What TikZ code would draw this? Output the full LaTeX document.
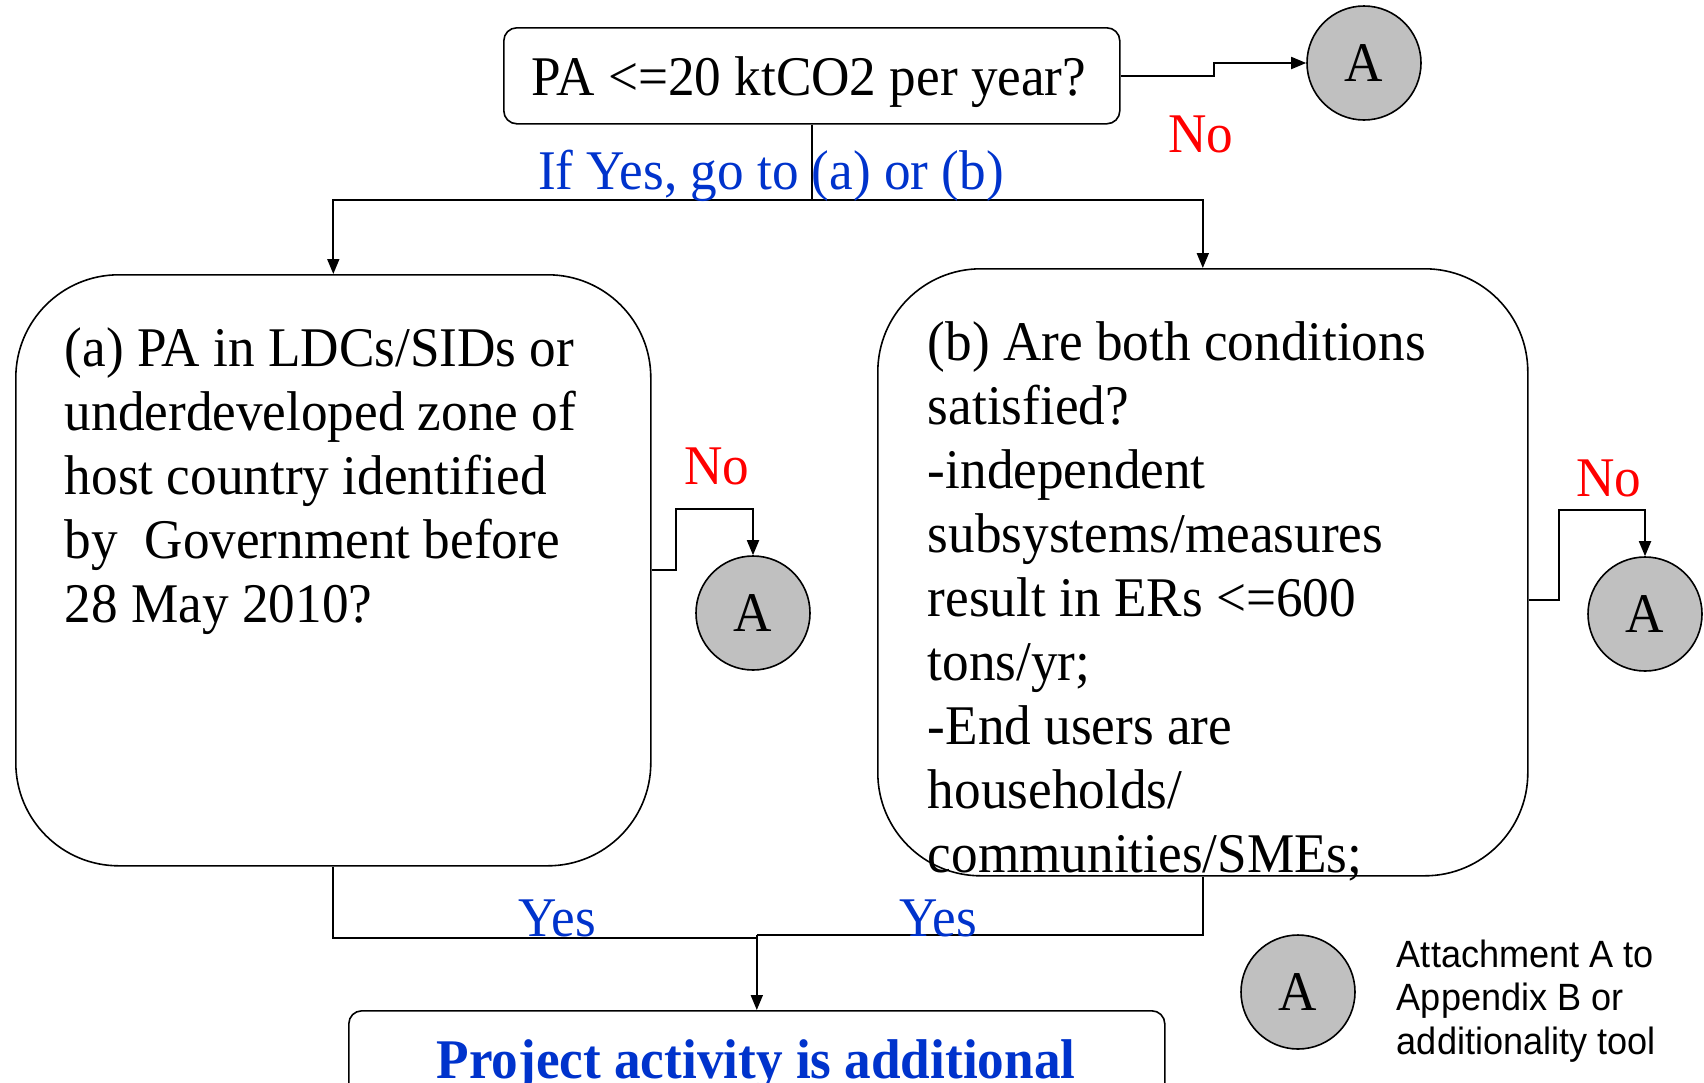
\documentclass[tikz,border=0pt]{standalone}
\usepackage{fontspec}
\setmainfont{Liberation Serif}[FakeStretch=0.95]
\newfontfamily\legendfont{Liberation Sans}[FakeStretch=0.95]
\usetikzlibrary{arrows.meta,calc}
\definecolor{decblue}{HTML}{0033CC}
\definecolor{nored}{HTML}{FF0000}
\definecolor{attgray}{HTML}{C0C0C0}
% natural interword spacing inside the multi-line text blocks
\newcommand{\plainspaces}{\spaceskip=0pt\xspaceskip=0pt\relax}

\begin{document}
\begin{tikzpicture}[x=1pt,y=-1pt,
  line width=1.8pt,
  flow/.style={-{Triangle[length=15pt,width=12pt]}},
  card/.style={draw, line width=1.6pt, inner sep=0pt, anchor=north west},
  attach/.style={circle, draw, fill=attgray, line width=1.6pt,
    minimum size=114pt, inner sep=0pt, font=\fontsize{56}{64}\selectfont},
  big/.style={font=\fontsize{56}{64}\selectfont, inner sep=0pt},
  blabel/.style={big, text=decblue},
  rlabel/.style={big, text=nored}]

\useasboundingbox (0,0) rectangle (1704,1082);
\clip (0,0) rectangle (1704,1082);

% decision boxes
\node[card, rounded corners=13pt, minimum width=616pt, minimum height=96pt] (top) at (503,27) {};
\node[card, rounded corners=103pt, minimum width=635pt, minimum height=591pt] (a) at (15,274) {};
\node[card, rounded corners=103pt, minimum width=650pt, minimum height=607pt] (b) at (877,268) {};
\node[card, rounded corners=13pt, minimum width=816pt, minimum height=110pt] (final) at (348,1010) {};

% attachment circles
\node[attach] (topA) at (1364,63) {\raisebox{-3pt}{A}};
\node[attach] (leftA) at (753,613) {\raisebox{-3pt}{A}};
\node[attach] (rightA) at (1645,614) {\raisebox{-3pt}{A}};
\node[attach] (legendA) at (1298,992) {\raisebox{-3pt}{A}};

% box texts
\node[big, anchor=base] (toptext) at (809,95) {PA <=20 ktCO2 per year?};
\node[big, anchor=base west, text width=640pt, align=left] (atext) at (64,366)
  {\plainspaces(a) PA in LDCs/SIDs or\\underdeveloped zone of\\host country identified\\by\ \ Government before\\28 May 2010?};
\node[big, anchor=base west, text width=600pt, align=left] (btext) at (927,360)
  {\plainspaces(b) Are both conditions\\satisfied?\\-independent\\subsystems/measures\\result in ERs <=600\\tons/yr;\\-End users are\\households/\\communities/SMEs;};
\node[big, anchor=base, text=decblue, font=\fontsize{56}{64}\selectfont\bfseries] (finaltext) at (756,1078)
  {Project activity is additional};
\node[anchor=base west, inner sep=0pt, text width=320pt, align=left,
  font=\legendfont\fontsize{38}{43.5}\selectfont] (legendtext) at (1396,967)
  {\plainspaces Attachment A to\\Appendix B or\\additionality tool};

% connectors
\draw[flow] (top.east) -- ++(93,0) |- (topA.west);
\draw (top.south) -- ++(0,75) coordinate (split);
\draw[flow] (split) -| (a.north);
\draw[flow] (split) -| (b.north);
\draw[flow] (a.east) -- ++(24,0) -- ++(0,-61) -| (leftA.north);
\draw[flow] ($(b.east)+(0,27.5)$) -- ++(30,0) -- ++(0,-90) -| (rightA.north);
\coordinate (join) at ($(final.north)+(0,-75)$);
\draw (a.south) |- ($(final.north)+(0,-72)$);
\draw (b.south) |- (join);
\draw[flow] (join) -- (final.north);

% labels
\node[rlabel, anchor=base] (no1) at (1201,152) {No};
\node[blabel, anchor=base] (ifyes) at (771,189) {If Yes, go to (a) or (b)};
\node[rlabel, anchor=base] (no2) at (717,484) {No};
\node[rlabel, anchor=base] (no3) at (1609,496) {No};
\node[blabel, anchor=base] (yes1) at (557,936) {Yes};
\node[blabel, anchor=base] (yes2) at (938,936) {Yes};
\end{tikzpicture}
\end{document}
